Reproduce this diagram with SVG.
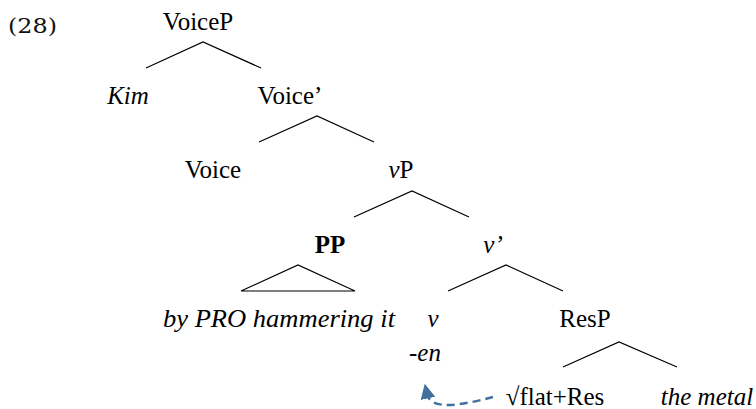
<svg xmlns="http://www.w3.org/2000/svg" width="756" height="409" viewBox="0 0 756 409">
<defs>
<style>
.t{font-family:'Liberation Serif','Times New Roman',Times,serif;font-size:25px;fill:#000;text-anchor:middle}
.i{font-style:italic}
.b{font-weight:bold}
.num{font-family:'DejaVu Serif',serif;font-size:21px;fill:#111}
.br{stroke:#000;stroke-width:1.2;fill:none}
.mv{stroke:#41709f;stroke-width:2.5;fill:none;stroke-dasharray:8 5}
</style>
<marker id="ah" viewBox="0 0 10 10" refX="3" refY="5" markerWidth="6" markerHeight="6" orient="auto" markerUnits="strokeWidth">
<path d="M0,0 L10,5 L0,10 z" fill="#41709f"/>
</marker>
</defs>
<rect width="756" height="409" fill="#fff"/>
<text class="num" x="8" y="33" textLength="49" lengthAdjust="spacingAndGlyphs">(28)</text>
<g font-family="Liberation Serif, Times New Roman, serif">
<g id="n-voicep"><text class="t" x="198" y="30">VoiceP</text></g>
<g id="n-kim"><text class="t i" x="128" y="104">Kim</text></g>
<g id="n-voicebar"><text class="t" x="290" y="104">Voice’</text></g>
<g id="n-voice"><text class="t" x="213" y="178">Voice</text></g>
<g id="n-vp"><text class="t" x="401" y="178"><tspan class="i">v</tspan>P</text></g>
<g id="n-pp"><text class="t b" x="330" y="253">PP</text></g>
<g id="n-vbar"><text class="t i" x="493" y="253">v’</text></g>
<g id="n-pro"><text class="t i" x="279" y="327" textLength="232" lengthAdjust="spacingAndGlyphs">by PRO hammering it</text></g>
<g id="n-v"><text class="t i" x="433" y="327">v</text><text class="t" x="425" y="361">-<tspan class="i">en</tspan></text></g>
<g id="n-resp"><text class="t" x="585" y="327">ResP</text></g>
<g id="n-root"><text class="t" x="555" y="405">√flat+Res</text></g>
<g id="n-metal"><text class="t i" x="707" y="405">the metal</text></g>
</g>
<g id="connectors">
<path class="br" d="M146 68 L203 42 L261 68"/>
<path class="br" d="M259 142 L317 116 L374 142"/>
<path class="br" d="M354 217 L412 191 L469 217"/>
<path class="br" d="M241 291 L298 265 L355 291 Z"/>
<path class="br" d="M448 291 L506 265 L563 291"/>
<path class="br" d="M563 367 L619 342 L677 367"/>
<path class="mv" d="M493 397 C466 404 431 412 427 394" marker-end="url(#ah)"/>
</g>
</svg>
